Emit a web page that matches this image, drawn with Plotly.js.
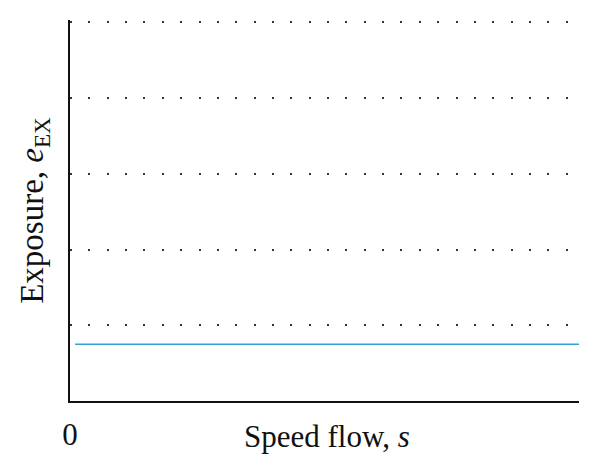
<!DOCTYPE html>
<html>
<head>
<meta charset="utf-8">
<script src="https://cdn.plot.ly/plotly-3.0.1.min.js"></script>
<style>
  html, body { margin: 0; padding: 0; background: #fff; }
  #chart { width: 600px; height: 473px; }
</style>
</head>
<body>
<div id="chart"></div>
<script>
// Exposure stays constant as the speed flow grows
const speedFlow = [1, 100];
const exposure = [0.75, 0.75];

// Axis settings
const xRange = [0, 100];
const yRange = [0, 5.03];
const yGridVals = [1, 2, 3, 4, 5];
const xTickVals = [0];
const xTickText = ['0'];
const xTitle = 'Speed flow, <i>s</i>';
const yTitle = 'Exposure, <i>e</i><sub>EX</sub>';

const serif = 'Liberation Serif, DejaVu Serif, serif';
const ink = '#111111';

const trace = {
  x: speedFlow,
  y: exposure,
  type: 'scatter',
  mode: 'lines',
  line: { color: '#2fa0dc', width: 1.6 },
  hoverinfo: 'skip',
  showlegend: false
};

const layout = {
  width: 600,
  height: 473,
  margin: { l: 70, r: 21, t: 20, b: 72 },
  paper_bgcolor: '#ffffff',
  plot_bgcolor: '#ffffff',
  showlegend: false,
  xaxis: {
    range: xRange,
    showgrid: false,
    zeroline: false,
    showline: true,
    linecolor: ink,
    linewidth: 2,
    tickmode: 'array',
    tickvals: xTickVals,
    ticktext: xTickText,
    ticks: '',
    ticklabelstandoff: 5,
    tickfont: { family: serif, size: 31, color: ink },
    fixedrange: true
  },
  yaxis: {
    range: yRange,
    tickmode: 'array',
    tickvals: yGridVals,
    showticklabels: false,
    ticks: '',
    showgrid: true,
    gridcolor: '#333333',
    gridwidth: 2,
    griddash: '2px,16.36px',
    zeroline: false,
    showline: true,
    linecolor: ink,
    linewidth: 2,
    title: {
      text: yTitle,
      font: { family: serif, size: 33, color: ink },
      standoff: 14
    },
    fixedrange: true
  },
  annotations: [{
    text: xTitle,
    xref: 'paper', yref: 'paper',
    x: 0.505, y: -0.092,
    xanchor: 'center', yanchor: 'middle',
    showarrow: false,
    font: { family: serif, size: 31, color: ink }
  }]
};

Plotly.newPlot('chart', [trace], layout, { staticPlot: true, displayModeBar: false });
</script>
</body>
</html>
